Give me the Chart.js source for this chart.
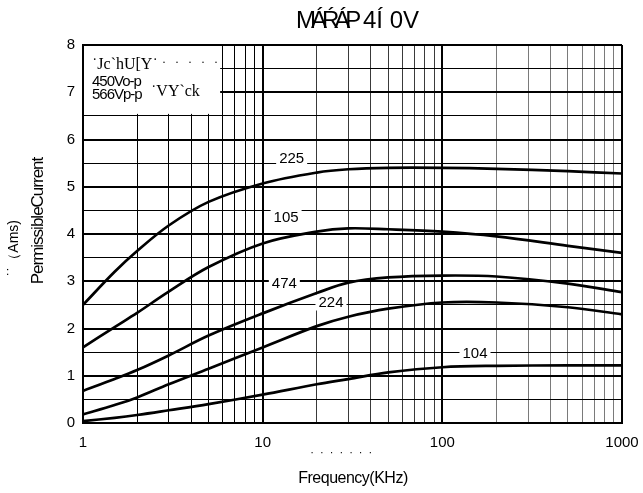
<!DOCTYPE html>
<html>
<head>
<meta charset="utf-8">
<script src="https://cdn.jsdelivr.net/npm/chart.js@4/dist/chart.umd.min.js"></script>
<style>
  body { margin: 0; background: #fff; }
  canvas { display: block; }
</style>
</head>
<body>
<canvas id="chart" width="643" height="493"></canvas>
<script>
// frequency points (KHz)
const freqs = [1, 1.5, 2, 3, 5, 10, 20, 30, 50, 100, 200, 500, 1000];

// permissible current (Arms) for each capacitor code
const c225 = [2.5, 3.2, 3.64, 4.18, 4.68, 5.07, 5.3, 5.37, 5.4, 5.4, 5.38, 5.33, 5.28];
const c105 = [1.6, 2.03, 2.33, 2.78, 3.3, 3.8, 4.05, 4.12, 4.1, 4.05, 3.95, 3.75, 3.6];
const c474 = [0.68, 0.93, 1.12, 1.43, 1.85, 2.32, 2.75, 2.97, 3.08, 3.12, 3.1, 2.95, 2.77];
const c224 = [0.18, 0.38, 0.54, 0.82, 1.15, 1.6, 2.05, 2.25, 2.42, 2.55, 2.55, 2.45, 2.3];
const c104 = [0.04, 0.11, 0.17, 0.27, 0.4, 0.6, 0.82, 0.93, 1.07, 1.18, 1.21, 1.22, 1.22];

const curveNames = ['225', '105', '474', '224', '104'];
const labelFreq = [14.5, 13.5, 13.2, 24, 152];
const labelLevel = [5.6, 4.34, 2.95, 2.55, 1.47];

const xTicks = [1,2,3,4,5,6,7,8,9,10,20,30,40,50,60,70,80,90,100,200,300,400,500,600,700,800,900,1000];
const xLabels = [1, 10, 100, 1000];

const SANS = '"Liberation Sans", Arial, sans-serif';
const SERIF = '"Liberation Serif", "Times New Roman", serif';

const series = [c225, c105, c474, c224, c104];
const datasets = series.map((vals, i) => ({
  label: curveNames[i],
  data: vals.map((v, j) => ({ x: freqs[j], y: v })),
  borderColor: '#000',
  borderWidth: 2.7,
  pointRadius: 0,
  fill: false,
  tension: 0.35
}));

const overlay = {
  id: 'overlay',
  beforeDatasetsDraw(chart) {
    const { ctx, chartArea, scales } = chart;
    const L = chartArea.left, T = chartArea.top;
    ctx.save();
    // legend box
    const boxR = scales.x.getPixelForValue(5.8);
    const boxB = scales.y.getPixelForValue(6.5) - 2;
    ctx.fillStyle = '#fff';
    ctx.fillRect(L + 1, T + 1, boxR - L - 1, boxB - T - 1);
    ctx.fillStyle = '#000';
    ctx.textBaseline = 'middle';
    ctx.textAlign = 'left';
    ctx.font = '16px ' + SERIF;
    ctx.fillText('˙Jc`hU[Y˙', L + 9, T + 20);
    ctx.fillText('˙VY`ck', L + 68, T + 47);
    ctx.letterSpacing = '3px';
    ctx.font = '12px ' + SERIF;
    ctx.fillText('· · · · ·', L + 79, T + 18);
    ctx.font = '15px ' + SANS;
    ctx.letterSpacing = '-1px';
    ctx.fillText('450Vo-p', L + 9, T + 37);
    ctx.fillText('566Vp-p', L + 9, T + 50);
    // curve labels
    ctx.letterSpacing = '0px';
    ctx.font = '15px ' + SANS;
    ctx.textAlign = 'center';
    curveNames.forEach((name, i) => {
      const px = scales.x.getPixelForValue(labelFreq[i]);
      const py = scales.y.getPixelForValue(labelLevel[i]);
      const w = ctx.measureText(name).width;
      ctx.fillStyle = '#fff';
      ctx.fillRect(px - w / 2 - 3, py - 8, w + 6, 16);
      ctx.fillStyle = '#000';
      ctx.fillText(name, px, py);
    });
    ctx.restore();
  },
  afterDraw(chart) {
    const { ctx } = chart;
    ctx.save();
    ctx.fillStyle = '#000';
    ctx.textBaseline = 'middle';
    // title
    ctx.textAlign = 'left';
    ctx.font = '24px ' + SANS;
    ctx.letterSpacing = '-5px';
    ctx.fillText('MÁŔÁP', 296, 21);
    ctx.letterSpacing = '0px';
    ctx.fillText('4Í 0V', 363, 21);
    ctx.textAlign = 'center';
    // x axis titles
    ctx.letterSpacing = '-0.5px';
    ctx.font = '16px ' + SANS;
    ctx.fillText('Frequency(KHz)', 353, 479);
    ctx.letterSpacing = '1.5px';
    ctx.font = '11px ' + SANS;
    ctx.fillText('· · · · · · ·', 342, 453);
    // y axis titles
    ctx.translate(38, 221);
    ctx.rotate(-Math.PI / 2);
    ctx.letterSpacing = '-1px';
    ctx.font = '17px ' + SANS;
    ctx.fillText('PermissibleCurrent', 0, 0);
    ctx.letterSpacing = '0px';
    ctx.font = '14px ' + SANS;
    ctx.fillText('˙˙（Ams)', -27, -24);
    ctx.restore();
  }
};

new Chart(document.getElementById('chart'), {
  type: 'line',
  data: { datasets },
  options: {
    responsive: false,
    animation: false,
    devicePixelRatio: 1,
    layout: { autoPadding: false, padding: { top: 45, right: 21, bottom: 0, left: 0 } },
    plugins: { legend: { display: false }, tooltip: { enabled: false }, title: { display: false } },
    scales: {
      x: {
        type: 'logarithmic',
        min: 1,
        max: 1000,
        afterBuildTicks: (scale) => { scale.ticks = xTicks.map(v => ({ value: v })); },
        afterFit: (scale) => { scale.height = 70; scale.paddingLeft = 0; scale.paddingRight = 0; },
        ticks: {
          autoSkip: false,
          maxRotation: 0,
          padding: 11,
          color: '#000',
          font: { family: SANS, size: 15 },
          callback: (v) => xLabels.includes(v) ? String(v) : ''
        },
        grid: {
          drawTicks: false,
          color: (c) => {
            const v = c.tick ? c.tick.value : 1;
            if (xLabels.includes(v)) return '#000';
            if (v > 100) return '#7a7a7a';
            if (v > 10) return '#3a3a3a';
            return '#000';
          },
          lineWidth: (c) => {
            const v = c.tick ? c.tick.value : 1;
            return xLabels.includes(v) ? 2 : 1;
          }
        },
        border: { display: true, color: '#000', width: 2 }
      },
      y: {
        min: 0,
        max: 8,
        afterFit: (scale) => { scale.width = 83; },
        ticks: {
          stepSize: 0.5,
          autoSkip: false,
          padding: 8,
          color: '#000',
          font: { family: SANS, size: 15 },
          callback: (v) => Number.isInteger(v) ? String(v) : ''
        },
        grid: {
          drawTicks: false,
          color: '#000',
          lineWidth: (c) => {
            const v = c.tick ? c.tick.value : 0;
            return Number.isInteger(v) ? 2 : 1;
          }
        },
        border: { display: true, color: '#000', width: 2 }
      }
    }
  },
  plugins: [overlay]
});
</script>
</body>
</html>
